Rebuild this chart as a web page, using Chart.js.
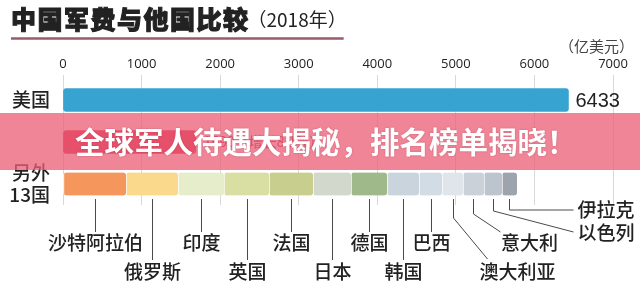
<!DOCTYPE html>
<html>
<head>
<meta charset="utf-8">
<script src="https://cdn.jsdelivr.net/npm/chart.js@4.4.0/dist/chart.umd.min.js"></script>
<style>
  html, body { margin: 0; padding: 0; background: #fff; }
  #wrap { width: 640px; height: 285px; }
</style>
</head>
<body>
<div id="wrap"><canvas id="myChart" width="640" height="285"></canvas></div>
<script>
// rows of the chart
const rowLabels = ['美国', '中国', ['另外', '13国']];
const mainValues = [6433, 1690, null];
const mainNotes = ['6433', '1690（增长8.1%）', ''];

// the other 13 countries, stacked in the last row
const otherNames = ['沙特阿拉伯', '俄罗斯', '印度', '英国', '法国', '日本', '德国',
    '韩国', '巴西', '澳大利亚', '意大利', '以色列', '伊拉克'];
const otherValues = [802, 662, 585, 573, 560, 484, 458, 407, 293, 267, 267, 229, 191];
const otherColors = ['#f5975c', '#fad98c', '#e5edca', '#d9dfa2', '#c8cf8e', '#d2d8cb', '#9fb98a',
    '#c9d4dd', '#d2dce4', '#dfe5ea', '#cad1d9', '#bcc4cd', '#9ea4ae'];

const xTicks = [0, 1000, 2000, 3000, 4000, 5000, 6000, 7000];

const titleText = '中国军费与他国比较';
const yearText = '（2018年）';
const unitText = '（亿美元）';
const bannerText = '全球军人待遇大揭秘，排名榜单揭晓！';

const CJK = '"Noto Sans CJK SC", "Noto Sans", sans-serif';

var datasets = [{
    label: 'main',
    data: mainValues,
    backgroundColor: ['#37a3d1', '#d8243f', '#fff'],
    borderRadius: 3,
    borderSkipped: false,
    barThickness: 23
}];
otherNames.forEach(function (name, i) {
    datasets.push({
        label: name,
        data: [null, null, otherValues[i]],
        backgroundColor: otherColors[i],
        borderColor: 'rgba(255,255,255,0.9)',
        borderWidth: { left: 1, right: 0, top: 0, bottom: 0 },
        borderRadius: { topLeft: 3, topRight: 3, bottomLeft: 3, bottomRight: 3 },
        borderSkipped: false,
        barThickness: 23
    });
});

// labels under the stacked bar, leader lines, title and banner
const decorate = {
    id: 'decorate',
    afterDatasetsDraw(chart) {
        const ctx = chart.ctx;
        const x = chart.scales.x;
        const y = chart.scales.y;
        ctx.save();

        // value notes
        ctx.textBaseline = 'middle';
        ctx.textAlign = 'left';
        ctx.fillStyle = '#222';
        ctx.font = '20px "Liberation Sans", Arial, sans-serif';
        ctx.fillText(mainNotes[0], x.getPixelForValue(mainValues[0]) + 7, y.getPixelForValue(0) + 1);
        ctx.fillStyle = '#a52a3c';
        ctx.font = '14px ' + CJK;
        ctx.fillText(mainNotes[1], x.getPixelForValue(mainValues[1]) + 8, y.getPixelForValue(1));

        // leader lines
        const b = y.getPixelForValue(2) + 12;
        const row0 = b + 47, row1 = b + 76;
        ctx.strokeStyle = '#4a4a4a';
        ctx.lineWidth = 1;
        ctx.fillStyle = '#222';
        ctx.font = '500 19px ' + CJK;
        var cum = 0;
        otherValues.forEach(function (v, i) {
            const cx = Math.round(x.getPixelForValue(cum + v / 2)) + 0.5;
            cum += v;
            ctx.beginPath();
            ctx.moveTo(cx, b + 3);
            if (i < 9) {
                const onTop = i % 2 === 0;
                ctx.lineTo(cx, onTop ? b + 36 : b + 64);
                ctx.stroke();
                ctx.textAlign = 'center';
                ctx.fillText(otherNames[i], cx, onTop ? row0 : row1);
            } else if (i === 9) {
                ctx.lineTo(cx, b + 22);
                ctx.lineTo(cx + 34, b + 63);
                ctx.stroke();
                ctx.textAlign = 'center';
                ctx.fillText(otherNames[i], cx + 64, row1);
            } else if (i === 10) {
                ctx.lineTo(cx, b + 18);
                ctx.lineTo(cx + 27, b + 36);
                ctx.stroke();
                ctx.textAlign = 'center';
                ctx.fillText(otherNames[i], cx + 56, row0);
            } else if (i === 11) {
                ctx.lineTo(cx, b + 15);
                ctx.lineTo(cx + 80, b + 36);
                ctx.stroke();
                ctx.textAlign = 'left';
                ctx.fillText(otherNames[i], cx + 84, b + 37);
            } else {
                ctx.lineTo(cx, b + 14);
                ctx.lineTo(cx + 64, b + 14);
                ctx.stroke();
                ctx.textAlign = 'left';
                ctx.fillText(otherNames[i], cx + 68, b + 14);
            }
        });
        ctx.restore();
    },
    afterDraw(chart) {
        const ctx = chart.ctx;
        ctx.save();
        // title
        ctx.textBaseline = 'middle';
        ctx.textAlign = 'left';
        ctx.fillStyle = '#222';
        ctx.strokeStyle = '#222';
        ctx.lineWidth = 1;
        ctx.font = '900 25px ' + CJK;
        ctx.letterSpacing = '1.5px';
        ctx.fillText(titleText, 11, 19);
        ctx.strokeText(titleText, 11, 19);
        const tw = ctx.measureText(titleText).width;
        ctx.letterSpacing = '0px';
        ctx.font = '19px ' + CJK;
        ctx.fillText(yearText, 9 + tw, 20);
        const yw = ctx.measureText(yearText).width;
        ctx.strokeStyle = '#9a5a6a';
        ctx.lineWidth = 2.5;
        ctx.beginPath();
        ctx.moveTo(11, 38.5);
        ctx.lineTo(6 + tw + yw, 38.5);
        ctx.stroke();

        // unit
        ctx.fillStyle = '#444';
        ctx.font = '15px ' + CJK;
        ctx.textAlign = 'right';
        ctx.fillText(unitText, 634, 46);

        // banner over the middle row
        ctx.fillStyle = 'rgba(235, 95, 120, 0.76)';
        ctx.fillRect(0, 113, chart.width, 57);
        ctx.textAlign = 'left';
        ctx.fillStyle = '#fff';
        ctx.font = 'bold 29.5px ' + CJK;
        ctx.shadowColor = 'rgba(120, 20, 40, 0.35)';
        ctx.shadowBlur = 2;
        ctx.fillText(bannerText, 75, 142);
        ctx.restore();
    }
};

var ctx = document.getElementById('myChart').getContext('2d');
var myChart = new Chart(ctx, {
    type: 'bar',
    data: { labels: rowLabels, datasets: datasets },
    plugins: [decorate],
    options: {
        indexAxis: 'y',
        responsive: false,
        animation: false,
        devicePixelRatio: 1,
        layout: { padding: { left: 0, right: 27, top: 52, bottom: 80 } },
        plugins: {
            legend: { display: false },
            tooltip: { enabled: false }
        },
        scales: {
            x: {
                position: 'top',
                stacked: true,
                min: 0,
                max: 7000,
                afterBuildTicks: function (scale) {
                    scale.ticks = xTicks.map(function (v) { return { value: v }; });
                },
                afterFit: function (scale) { scale.height = 27; },
                border: { display: false },
                grid: { color: '#d9d9d9', tickLength: 4, tickColor: '#d9d9d9' },
                ticks: {
                    color: '#222',
                    padding: 3,
                    maxRotation: 0,
                    callback: function (v) { return String(v); },
                    font: { size: 13, weight: '500', family: '"Open Sans", "Liberation Sans", sans-serif' }
                }
            },
            y: {
                stacked: true,
                afterFit: function (scale) { scale.width = 63; },
                border: { display: false },
                grid: { display: false, drawTicks: false },
                ticks: {
                    padding: 13,
                    color: function (c) { return c.index === 1 ? '#a52a3c' : '#222'; },
                    font: { size: 19, weight: '500', family: CJK, lineHeight: 1.15 }
                }
            }
        }
    }
});
</script>
</body>
</html>
